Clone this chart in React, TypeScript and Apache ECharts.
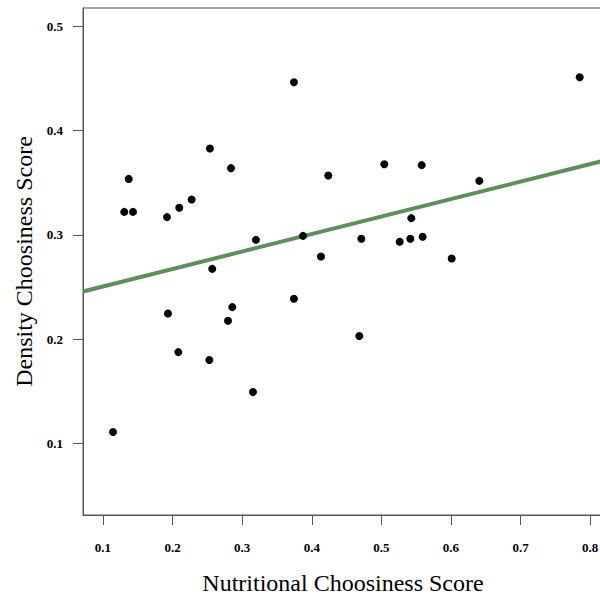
import React, { useEffect, useRef } from "react";
import * as echarts from "echarts";

const nutritional = [
  0.1144, 0.1306, 0.137, 0.1431, 0.192, 0.2096, 0.2274, 0.2537, 0.2839, 0.3198,
  0.257, 0.3744, 0.3744, 0.1934, 0.2082, 0.2528, 0.2796, 0.2858, 0.3155, 0.3874,
  0.4237, 0.5042, 0.5579, 0.6407, 0.7849, 0.543, 0.4132, 0.4712, 0.5263, 0.5416,
  0.5593, 0.601, 0.4683,
];
const density = [
  0.111, 0.322, 0.3536, 0.322, 0.317, 0.3259, 0.3338, 0.3827, 0.3639, 0.2952,
  0.2674, 0.4463, 0.2387, 0.2246, 0.1876, 0.18, 0.2176, 0.2307, 0.1493, 0.299,
  0.3568, 0.3677, 0.3668, 0.3517, 0.451, 0.316, 0.2792, 0.2962, 0.2933, 0.2962,
  0.2981, 0.2773, 0.203,
];
const fitX = [0.0713, 0.8184];
const fitY = [0.2457, 0.3709];
const xTicks = [0.1, 0.2, 0.3, 0.4, 0.5, 0.6, 0.7, 0.8];
const yTicks = [0.1, 0.2, 0.3, 0.4, 0.5];

export default function App() {
  const ref = useRef<HTMLDivElement>(null);
  useEffect(() => {
    if (!ref.current) return;
    const chart = echarts.init(ref.current, undefined, { renderer: "svg" });
    const font = "'Liberation Serif', 'Times New Roman', serif";
    chart.setOption({
      animation: false,
      textStyle: { fontFamily: font },
      grid: {
        left: 83,
        top: 8,
        width: 520,
        bottom: 80,
        containLabel: false,
        outerBoundsMode: "none",
        show: true,
        borderColor: "#555",
        borderWidth: 1,
      },
      xAxis: {
        type: "value",
        min: 0.0713,
        max: 0.8184,
        name: "Nutritional Choosiness Score",
        nameLocation: "middle",
        nameGap: 56,
        nameTextStyle: { fontFamily: font, fontSize: 24, color: "#000" },
        axisLine: { show: true, lineStyle: { color: "#555" } },
        axisTick: { show: true, length: 10, customValues: xTicks, lineStyle: { color: "#555" } },
        axisLabel: {
          customValues: xTicks,
          margin: 26,
          fontFamily: font,
          fontSize: 13,
          fontWeight: "bold",
          color: "#000",
          formatter: (v: number) => v.toFixed(1),
        },
        splitLine: { show: false },
      },
      yAxis: {
        type: "value",
        min: 0.0315,
        max: 0.5174,
        name: "Density Choosiness Score",
        nameLocation: "middle",
        nameRotate: 90,
        nameGap: 47,
        nameTextStyle: { fontFamily: font, fontSize: 24, color: "#000" },
        axisLine: { show: true, lineStyle: { color: "#555" } },
        axisTick: { show: true, length: 10, customValues: yTicks, lineStyle: { color: "#555" } },
        axisLabel: {
          customValues: yTicks,
          margin: 20,
          fontFamily: font,
          fontSize: 13,
          fontWeight: "bold",
          color: "#000",
          formatter: (v: number) => v.toFixed(1),
        },
        splitLine: { show: false },
      },
      series: [
        {
          type: "line",
          data: fitX.map((x, i) => [x, fitY[i]]),
          showSymbol: false,
          symbol: "none",
          lineStyle: { color: "#5b8f5b", width: 4 },
          z: 1,
        },
        {
          type: "scatter",
          data: nutritional.map((x, i) => [x, density[i]]),
          symbol: "circle",
          symbolSize: 8,
          itemStyle: { color: "#000", opacity: 1 },
          z: 2,
        },
      ],
    });
    return () => chart.dispose();
  }, []);
  return <div ref={ref} style={{ width: 600, height: 595, position: "absolute", left: 0, top: 0 }} />;
}
